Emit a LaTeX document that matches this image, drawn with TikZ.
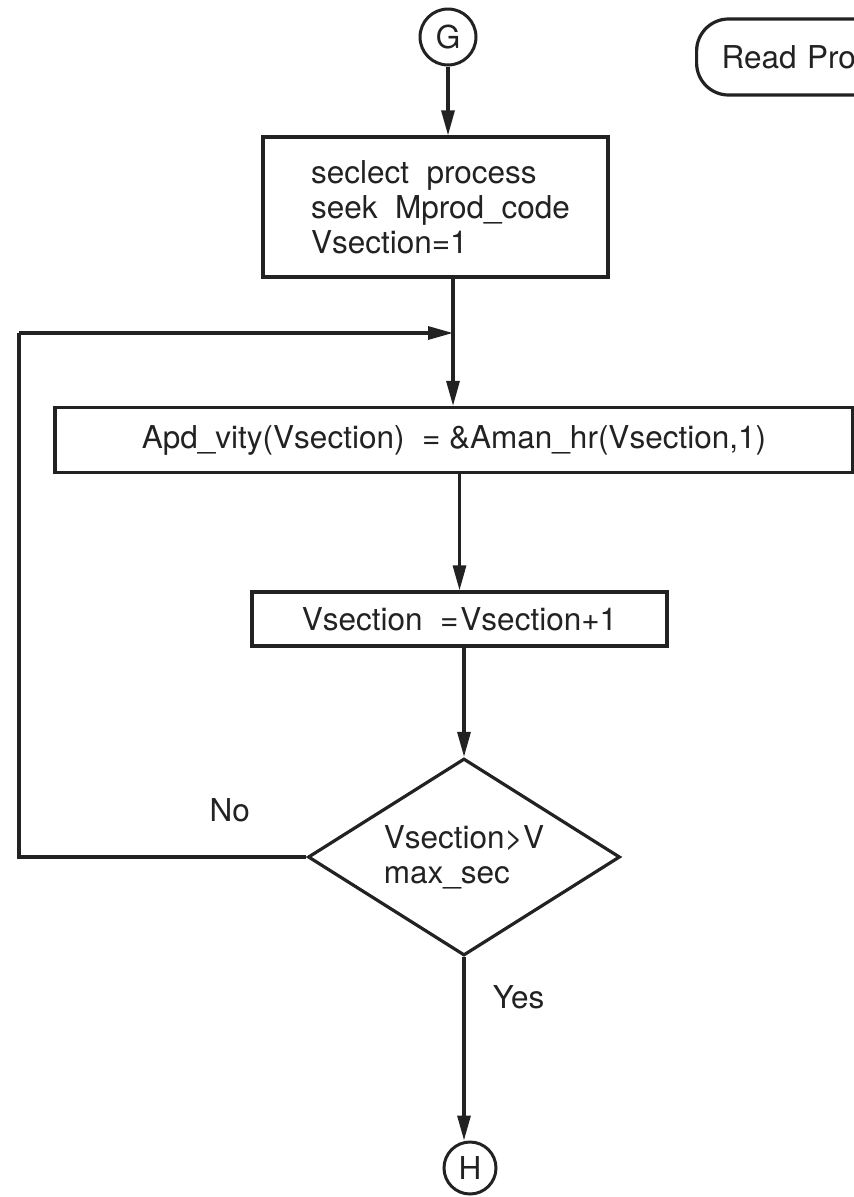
\documentclass[tikz,border=0pt]{standalone}
\usepackage{fontspec}
\setmainfont{TeX Gyre Heros}
\usetikzlibrary{shapes.geometric,arrows.meta}
\definecolor{ink}{HTML}{222222}
\tikzset{
  every node/.style={font=\fontsize{31.5}{35}\selectfont, text=ink},
  flowline/.style={draw=ink, line width=3.2pt},
  arrowline/.style={flowline, -{Triangle[length=25pt,width=13pt]}},
  procbox/.style={draw=ink, line width=3.2pt, rectangle, inner sep=0pt},
  connector/.style={draw=ink, line width=3pt, circle, inner sep=0pt},
  decision/.style={draw=ink, line width=3.2pt, diamond, aspect=1.58, inner sep=0pt, align=left},
  terminal/.style={draw=ink, line width=3.2pt, rectangle, rounded corners=32pt, inner sep=0pt}
}
\begin{document}
\begin{tikzpicture}[x=1pt, y=-1pt]
  \useasboundingbox (0,0) rectangle (854,1197);
  \clip (0,0) rectangle (854,1197);

  % off-page connectors and the terminal at the top right
  \node[connector, minimum size=56pt] (G) at (448,37) {G};
  \node[terminal, anchor=west, minimum height=76pt, minimum width=290pt,
        text width=240pt, align=left] (read) at (695,57) {Read Pro};

  % process boxes
  \node[procbox, minimum width=345pt, minimum height=140pt, align=left] (b1) at (435.5,207)
        {\hspace*{10pt}seclect\ \ process\\\hspace*{10pt}seek\ \ Mprod\_code\\\hspace*{10pt}Vsection=1};
  \node[procbox, minimum width=798pt, minimum height=65pt] (b2) at (454,440)
        {Apd\_vity(Vsection)\ \ = \&Aman\_hr(Vsection,1)};
  \node[procbox, minimum width=415pt, minimum height=54pt] (b3) at (459.5,619)
        {Vsection\ \ =\kern2pt Vsection+1};

  % loop test
  \node[decision, minimum width=312pt, minimum height=197pt] (d) at (464,857)
        {Vsection>V\\max\_sec};

  \node[connector, minimum size=52pt] (H) at (470,1168) {H};

  % return path of the loop
  \coordinate (loopcorner) at (19,333);
  \coordinate (merge) at (453,333);

  % connectors
  \draw[arrowline] (G.south) -- (G.south |- b1.north);
  \draw[arrowline] (b1.south -| merge) -- (b2.north -| merge);
  \draw[arrowline] (b2.south -| b3.north) -- (b3.north);
  \draw[arrowline] (b3.south -| d.north) -- (d.north);
  \draw[arrowline] (d.south) -- node[pos=0.22, anchor=west, xshift=24pt] (yes) {Yes}
        (d.south |- H.north);
  \draw[flowline] (d.west) -- node[pos=0.267, anchor=base, yshift=36pt] (no) {No}
        (d.west -| loopcorner) -- (loopcorner);
  \draw[arrowline] (loopcorner) -- (merge);
\end{tikzpicture}
\end{document}
